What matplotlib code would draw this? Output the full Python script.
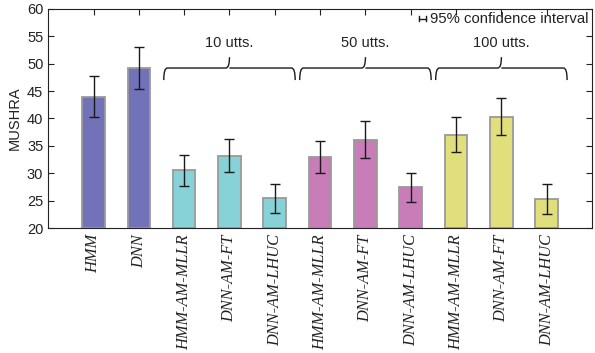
import numpy as np
import matplotlib
matplotlib.use("Agg")
import matplotlib.pyplot as plt
from matplotlib.path import Path
from matplotlib.patches import PathPatch

# données
systemes = ["HMM", "DNN",
            "HMM-AM-MLLR", "DNN-AM-FT", "DNN-AM-LHUC",
            "HMM-AM-MLLR", "DNN-AM-FT", "DNN-AM-LHUC",
            "HMM-AM-MLLR", "DNN-AM-FT", "DNN-AM-LHUC"]
mushra = [44.0, 49.2, 30.5, 33.2, 25.4, 32.9, 36.1, 27.4, 37.0, 40.3, 25.3]
ic95 = [3.7, 3.9, 2.8, 3.0, 2.7, 2.9, 3.35, 2.7, 3.2, 3.4, 2.7]
groupes = ["10 utts.", "50 utts.", "100 utts."]
couleurs = ["#7272b8"] * 2 + ["#86d2d6"] * 3 + ["#c87db8"] * 3 + ["#e0df7c"] * 3

plt.rcParams["font.family"] = "Liberation Sans"

fig = plt.figure(figsize=(5.95, 3.53), dpi=100)
ax = fig.add_axes([0.081, 0.354, 0.914, 0.621])

x = np.arange(1, len(mushra) + 1)
ax.bar(x, np.array(mushra) - 20, bottom=20, width=0.5, color=couleurs,
       edgecolor="#9a9a9a", linewidth=1.3, zorder=2)
ax.errorbar(x, mushra, yerr=ic95, fmt="none", ecolor="#1a1a1a",
            elinewidth=1.0, capsize=3.5, capthick=1.0, zorder=3)

ax.set_xlim(0, 12)
ax.set_ylim(20, 60)
ax.set_yticks(range(20, 61, 5))
ax.set_xticks(x)
ax.tick_params(direction="in", top=True, right=True, length=4,
               colors="#222222")
ax.tick_params(axis="y", labelsize=10.5)
ax.tick_params(axis="x", pad=4.5)
ax.set_xticklabels(systemes, rotation=90, family="Liberation Serif",
                   style="italic", fontsize=11.8)
ax.set_ylabel("MUSHRA", fontsize=10.5, color="#222222", labelpad=4)
for s in ax.spines.values():
    s.set_color("#222222")

# accolades
def accolade(ax, x0, x1, y, h):
    xm = (x0 + x1) / 2
    r = 0.08
    verts = [(x0, y - h), (x0, y), (x0 + r, y),
             (xm - r, y), (xm, y), (xm, y + h * 0.9),
             (xm, y), (xm + r, y),
             (x1 - r, y), (x1, y), (x1, y - h)]
    codes = [Path.MOVETO, Path.CURVE3, Path.CURVE3,
             Path.LINETO, Path.CURVE3, Path.CURVE3,
             Path.MOVETO, Path.CURVE3,
             Path.LINETO, Path.CURVE3, Path.CURVE3]
    ax.add_patch(PathPatch(Path(verts, codes), fill=False,
                           edgecolor="#1a1a1a", linewidth=1.0))

for i, g in enumerate(groupes):
    c = 4 + 3 * i
    accolade(ax, c - 1.45, c + 1.45, 49.2, 2.2)
    ax.text(c, 53.8, g, ha="center", va="center", fontsize=10.5,
            color="#222222")

# légende intervalle de confiance
ax.text(0.994, 0.955, "95% confidence interval", transform=ax.transAxes,
        ha="right", va="center", fontsize=10.7, color="#222222")
ax.plot([0.682, 0.694], [0.955, 0.955], transform=ax.transAxes,
        color="#1a1a1a", lw=1.0)
ax.plot([0.682, 0.682], [0.943, 0.967], transform=ax.transAxes,
        color="#1a1a1a", lw=1.0)
ax.plot([0.694, 0.694], [0.943, 0.967], transform=ax.transAxes,
        color="#1a1a1a", lw=1.0)

fig.savefig("out.png", dpi=100)
